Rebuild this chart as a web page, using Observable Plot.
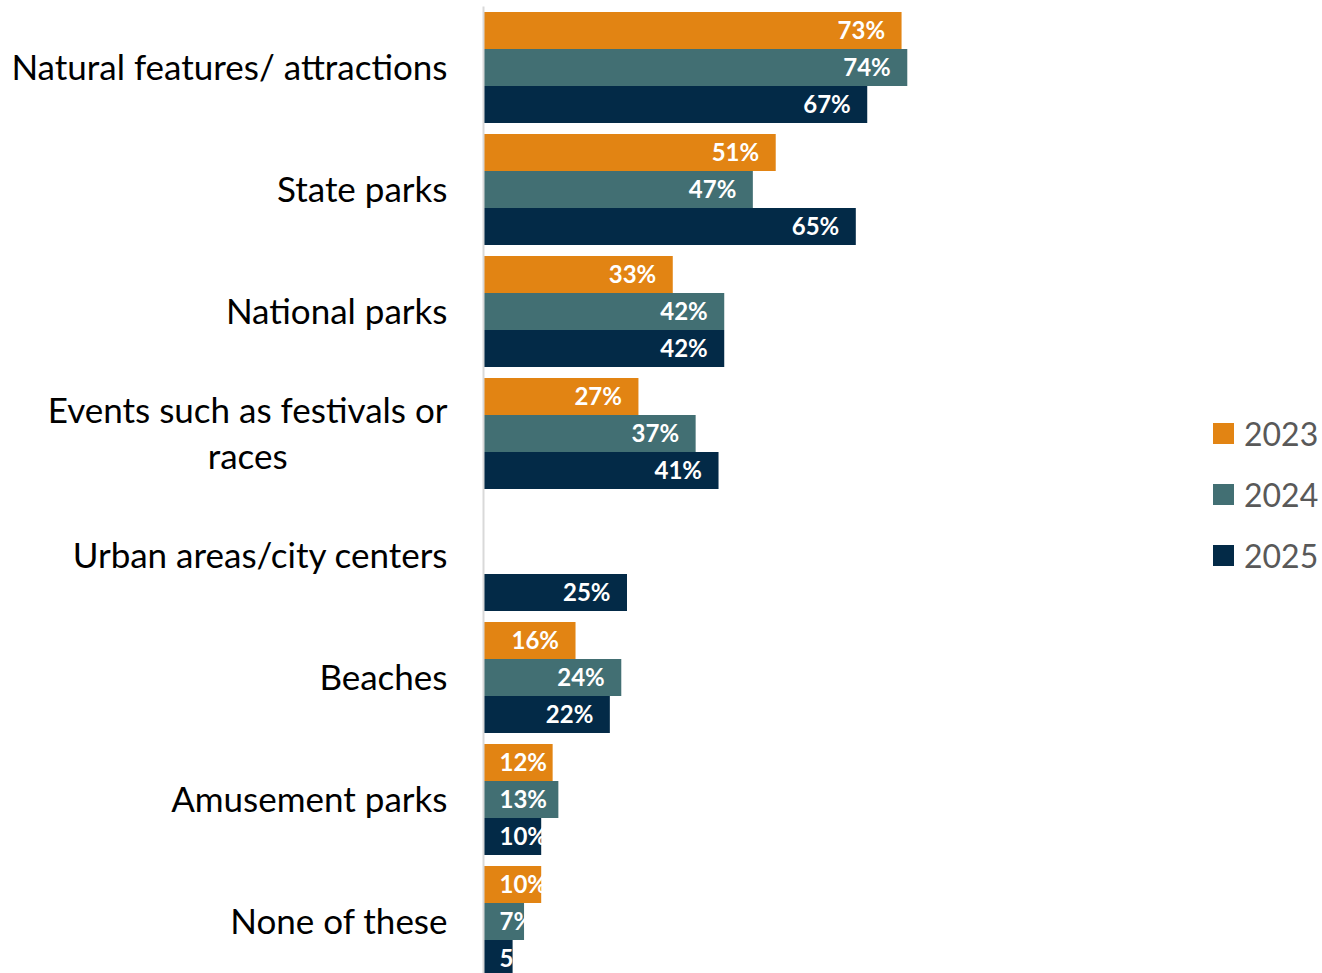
<!DOCTYPE html>
<html><head><meta charset="utf-8">
<script src="https://cdn.jsdelivr.net/npm/d3@7"></script>
<script src="https://cdn.jsdelivr.net/npm/@observablehq/plot@0.6"></script>
<style>
html,body{margin:0;padding:0;background:#fff;}
#wrap{position:relative;width:1322px;height:973px;overflow:hidden;}
#legend{position:absolute;left:1213px;top:403px;font-family:Lato, sans-serif;font-size:32px;color:#595959;}
.item{display:flex;align-items:center;height:61px;}
.sw{width:21px;height:21px;margin-right:10px;}
</style></head><body><div id="wrap"><div id="chart"></div><div id="legend"></div></div>
<script>
const categories = ["Natural features/ attractions","State parks","National parks","Events such as festivals or races","Urban areas/city centers","Beaches","Amusement parks","None of these"];
const categoryLabels = ["Natural features/ attractions","State parks","National parks","Events such as festivals or\nraces","Urban areas/city centers","Beaches","Amusement parks","None of these"];
const years = ["2023","2024","2025"];
const values2023 = [73,51,33,27,null,16,12,10];
const values2024 = [74,47,42,37,null,24,13,7];
const values2025 = [67,65,42,41,25,22,10,5];
const colors = ["#E28413","#426F73","#032A47"];

const series = [values2023, values2024, values2025];
const rows = [];
categories.forEach((c, i) => years.forEach((y, j) => {
  const v = series[j][i];
  if (v != null) rows.push({category: c, year: y, value: v});
}));

const labelFont = {fill: "white", fontWeight: "bold", fontSize: 24, fontFamily: "Lato, sans-serif"};
const plot = Plot.plot({
  width: 1322, height: 980,
  marginLeft: 484, marginRight: 266, marginTop: 12, marginBottom: 2,
  style: {fontFamily: "Lato, sans-serif", background: "white"},
  x: {domain: [0, 100], axis: null},
  y: {domain: years, axis: null, padding: 0},
  fy: {domain: categories, axis: null, paddingInner: 0.09, paddingOuter: 0},
  color: {domain: years, range: colors},
  marks: [
    Plot.barX(rows, {fy: "category", y: "year", x: "value", fill: "year"}),
    Plot.text(rows.filter(d => d.value >= 14), {fy: "category", y: "year", x: "value", text: d => d.value + "%", textAnchor: "end", dx: -17, ...labelFont}),
    Plot.text(rows.filter(d => d.value < 14), {fy: "category", y: "year", x: () => 0, text: d => d.value + "%", textAnchor: "start", dx: 15, ...labelFont}),
    Plot.text(categories, {fy: d => d, text: (d, i) => categoryLabels[i], frameAnchor: "left", textAnchor: "end", dx: -37, dy: -3, fontSize: 35, fill: "#000", lineHeight: 1.34}),
    Plot.frame({anchor: "left", stroke: "#d9d9d9", strokeWidth: 2, dx: -1, facet: "super", insetTop: -5})
  ]
});
document.getElementById("chart").appendChild(plot);

// center multi-line category labels within their block (Excel style)
plot.querySelectorAll("text").forEach(t => {
  const spans = t.querySelectorAll("tspan");
  if (spans.length > 1) {
    let w = 0;
    spans.forEach(s => { w = Math.max(w, s.getComputedTextLength()); });
    t.setAttribute("text-anchor", "middle");
    spans.forEach(s => s.setAttribute("x", -w / 2));
  }
});

const legend = document.getElementById("legend");
years.forEach((y, j) => {
  const item = document.createElement("div");
  item.className = "item";
  const sw = document.createElement("div");
  sw.className = "sw";
  sw.style.background = colors[j];
  const tx = document.createElement("span");
  tx.textContent = y;
  item.appendChild(sw); item.appendChild(tx);
  legend.appendChild(item);
});
</script></body></html>
